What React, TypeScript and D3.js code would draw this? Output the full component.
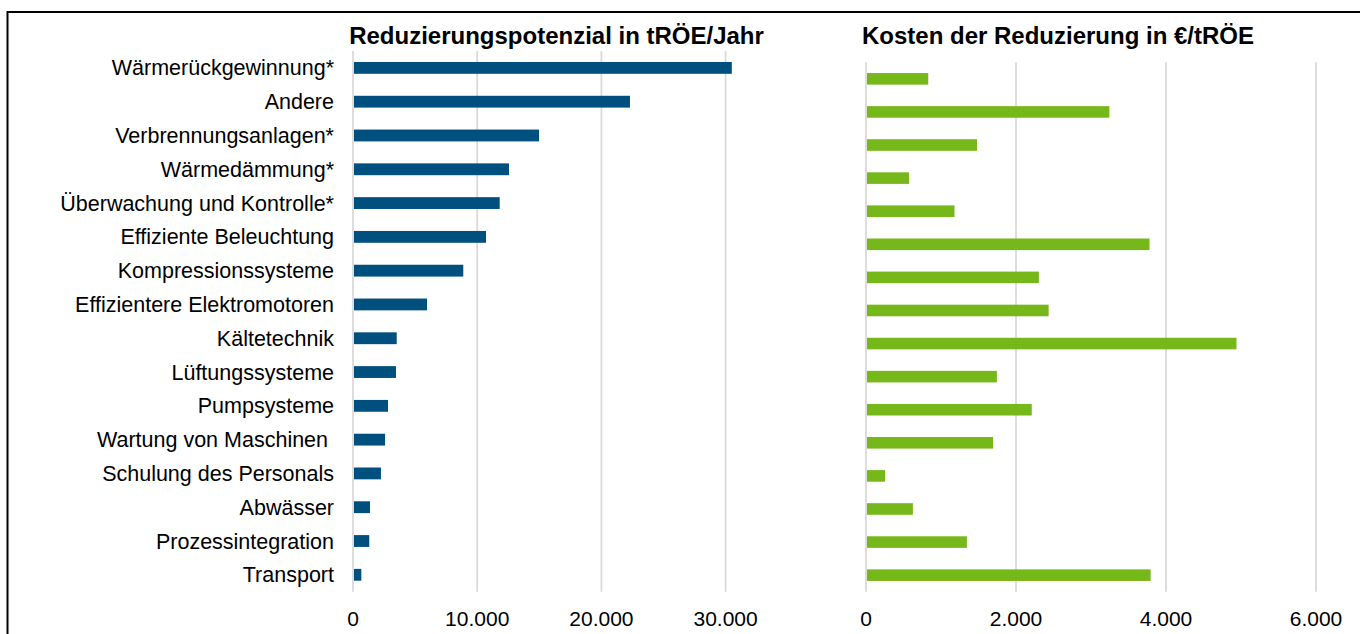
import React from 'react';
import * as d3 from 'd3';

// categories, top to bottom
const categories = [
    'Wärmerückgewinnung*',
    'Andere',
    'Verbrennungsanlagen*',
    'Wärmedämmung*',
    'Überwachung und Kontrolle*',
    'Effiziente Beleuchtung',
    'Kompressionssysteme',
    'Effizientere Elektromotoren',
    'Kältetechnik',
    'Lüftungssysteme',
    'Pumpsysteme',
    'Wartung von Maschinen ',
    'Schulung des Personals',
    'Abwässer',
    'Prozessintegration',
    'Transport'
];

// tRÖE/Jahr
const potenzial = [30500, 22300, 14980, 12560, 11810, 10710, 8880, 5960, 3520, 3460, 2820, 2580, 2250, 1370, 1310, 670];
// €/tRÖE
const kosten = [830, 3245, 1480, 575, 1180, 3780, 2305, 2435, 4940, 1745, 2210, 1695, 255, 625, 1345, 3795];

const potenzialTicks = [0, 10000, 20000, 30000];
const kostenTicks = [0, 2000, 4000, 6000];

const titleLeft = 'Reduzierungspotenzial in tRÖE/Jahr';
const titleRight = 'Kosten der Reduzierung in €/tRÖE';

const W = 1360, H = 634;
const FONT = '"Liberation Sans", Arial, sans-serif';
const GRID = '#d9d9d9';
const fmt = (v: number) => d3.format(',')(v).replace(/,/g, '.');

const Panel = ({ values, ticks, x0, x1, top, bottom, color, title, titleX, showLabels }: any) => {
    const xScale = d3.scaleLinear()
        .domain([ticks[0], ticks[ticks.length - 1]])
        .range([x0, x1]);
    const yScale = d3.scaleBand()
        .domain(categories)
        .range([top, bottom])
        .paddingInner(0.65)
        .paddingOuter(0.325);

    return (
        <g>
            <text x={titleX} y={44} textAnchor="middle" fontSize={24} fontWeight="bold" fontFamily={FONT} fill="#000">{title}</text>
            {ticks.map((t: number) => (
                <g key={t}>
                    <line x1={xScale(t)} x2={xScale(t)} y1={top} y2={bottom} stroke={GRID} strokeWidth={1.75} />
                    <text x={xScale(t)} y={626} textAnchor="middle" fontSize={21} fontFamily={FONT} fill="#000">{fmt(t)}</text>
                </g>
            ))}
            {categories.map((c, i) => (
                <rect key={c}
                    x={xScale(0) + 1}
                    y={yScale(c)}
                    width={Math.max(0, xScale(values[i]) - xScale(0) - 1)}
                    height={yScale.bandwidth()}
                    fill={color} />
            ))}
            {showLabels && categories.map(c => (
                <text key={c} x={334} y={(yScale(c) as number) + yScale.bandwidth() / 2 + 7.5}
                    textAnchor="end" fontSize={21.5} fontFamily={FONT} fill="#000"
                    style={{ whiteSpace: 'pre' }}>{c}</text>
            ))}
        </g>
    );
};

export default function App() {
    return (
        <svg width={W} height={H} style={{ position: 'absolute', left: 0, top: 0, background: '#fff' }}>
            <rect x={0} y={0} width={W} height={H} fill="#fff" />
            <line x1={7.5} x2={W} y1={12} y2={12} stroke="#000" strokeWidth={2} />
            <line x1={7.5} x2={7.5} y1={11} y2={H} stroke="#000" strokeWidth={2} />
            <Panel values={potenzial} ticks={potenzialTicks} x0={353} x1={725.6} top={51} bottom={591.7}
                color="#00507f" title={titleLeft} titleX={556.5} showLabels={true} />
            <Panel values={kosten} ticks={kostenTicks} x0={866} x1={1316} top={62.3} bottom={591.7}
                color="#76b81a" title={titleRight} titleX={1058} showLabels={false} />
        </svg>
    );
}
